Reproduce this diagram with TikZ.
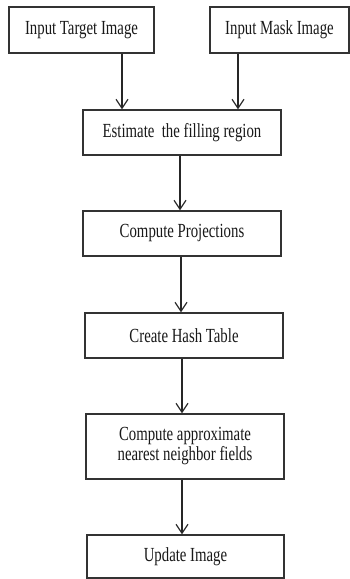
\documentclass[tikz,border=0pt]{standalone}
\usepackage{fontspec}
\setmainfont{Liberation Serif}[FakeStretch=0.74]
\usetikzlibrary{arrows.meta}
\begin{document}
\begin{tikzpicture}[x=1pt,y=-1pt,
  box/.style={draw=black!80, line width=1.3pt, fill=white, inner sep=0pt,
    align=center, font=\fontsize{20}{20}\selectfont, text=black!90},
  arr/.style={draw=black!85, line width=1.2pt, -{Straight Barb[length=9pt,width=12pt,line width=1.2pt]}}]
\useasboundingbox (0,0) rectangle (350,579);
\node[box, minimum width=145pt, minimum height=46pt] (b1) at (81.5,30) {Input Target Image};
\node[box, minimum width=139pt, minimum height=46pt] (b2) at (279.5,30) {Input Mask Image};
\node[box, minimum width=198pt, minimum height=45pt] (b3) at (182,132.5) {Estimate \ the filling region};
\node[box, minimum width=198pt, minimum height=45pt] (b4) at (182,233.5) {Compute Projections};
\node[box, minimum width=198pt, minimum height=45pt] (b5) at (184,335.5) {Create Hash Table};
\node[box, minimum width=198pt, minimum height=65pt] (b6) at (185,446.5) {Compute approximate\\nearest neighbor fields};
\node[box, minimum width=197pt, minimum height=43pt] (b7) at (185.5,556.5) {Update Image};
\coordinate (xl) at (122,0);
\coordinate (xr) at (238,0);
\coordinate (x3) at (180,0);
\coordinate (x4) at (181,0);
\coordinate (x5) at (182,0);
\coordinate (x6) at (182,0);
\draw[arr] (b1.south -| xl) -- (b3.north -| xl);
\draw[arr] (b2.south -| xr) -- (b3.north -| xr);
\draw[arr] (b3.south -| x3) -- (b4.north -| x3);
\draw[arr] (b4.south -| x4) -- (b5.north -| x4);
\draw[arr] (b5.south -| x5) -- (b6.north -| x5);
\draw[arr] (b6.south -| x6) -- (b7.north -| x6);
\end{tikzpicture}
\end{document}
